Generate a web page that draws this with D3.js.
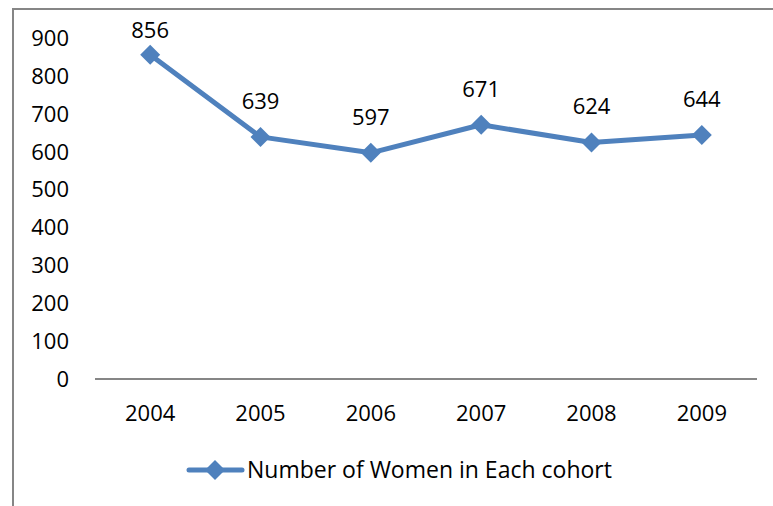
<!DOCTYPE html>
<html><head><meta charset="utf-8">
<script src="https://cdn.jsdelivr.net/npm/d3@7"></script>
<style>body{margin:0;background:#fff}svg{display:block}text{font-family:"Open Sans",sans-serif;fill:#000}</style>
</head><body><svg id="c" width="773" height="506"></svg>
<script>
const years = ["2004","2005","2006","2007","2008","2009"];
const women = [856,639,597,671,624,644];
const yTicks = [0,100,200,300,400,500,600,700,800,900];
const seriesName = "Number of Women in Each cohort";

const svg = d3.select("#c");
const color = "#4F81BD";
// frame
svg.append("path").attr("d","M13,506 V9 H773").attr("fill","none").attr("stroke","#868686").attr("stroke-width",2);

const x = d3.scaleBand().domain(years).range([95,757]);
const y = d3.scaleLinear().domain([0,900]).range([379,38]);

// y tick labels
svg.append("g").selectAll("text").data(yTicks).join("text")
  .attr("x",69).attr("y",d=>y(d)).attr("dy","0.36em").attr("text-anchor","end")
  .attr("font-size",22).text(d=>d);

// x axis line
svg.append("line").attr("x1",95).attr("x2",757).attr("y1",y(0)).attr("y2",y(0))
  .attr("stroke","#868686").attr("stroke-width",2);
svg.append("g").selectAll("text").data(years).join("text")
  .attr("x",d=>x(d)+x.bandwidth()/2).attr("y",y(0)+34).attr("dy","0.36em").attr("text-anchor","middle")
  .attr("font-size",22).text(d=>d);

const cx = (d,i)=>x(years[i])+x.bandwidth()/2;
const line = d3.line().x((d,i)=>cx(d,i)).y(d=>y(d));
svg.append("path").datum(women).attr("d",line).attr("fill","none").attr("stroke",color).attr("stroke-width",5).attr("stroke-linejoin","round");

const diamond = (s)=>`M0,${-s}L${s},0L0,${s}L${-s},0Z`;
svg.append("g").selectAll("path").data(women).join("path")
  .attr("d",diamond(10)).attr("transform",(d,i)=>`translate(${cx(d,i)},${y(d)})`).attr("fill",color);

svg.append("g").selectAll("text").data(women).join("text")
  .attr("x",(d,i)=>cx(d,i)).attr("y",d=>Math.max(y(d)-36,30)).attr("dy","0.36em").attr("text-anchor","middle")
  .attr("font-size",22).text(d=>d);

// legend
const lg = svg.append("g");
lg.append("line").attr("x1",189).attr("x2",242).attr("y1",470).attr("y2",470).attr("stroke",color).attr("stroke-width",5).attr("stroke-linecap","round");
lg.append("path").attr("d",diamond(10)).attr("transform","translate(215,470)").attr("fill",color);
lg.append("text").attr("x",247).attr("y",470).attr("dy","0.36em").attr("font-size",23).text(seriesName);
</script></body></html>
